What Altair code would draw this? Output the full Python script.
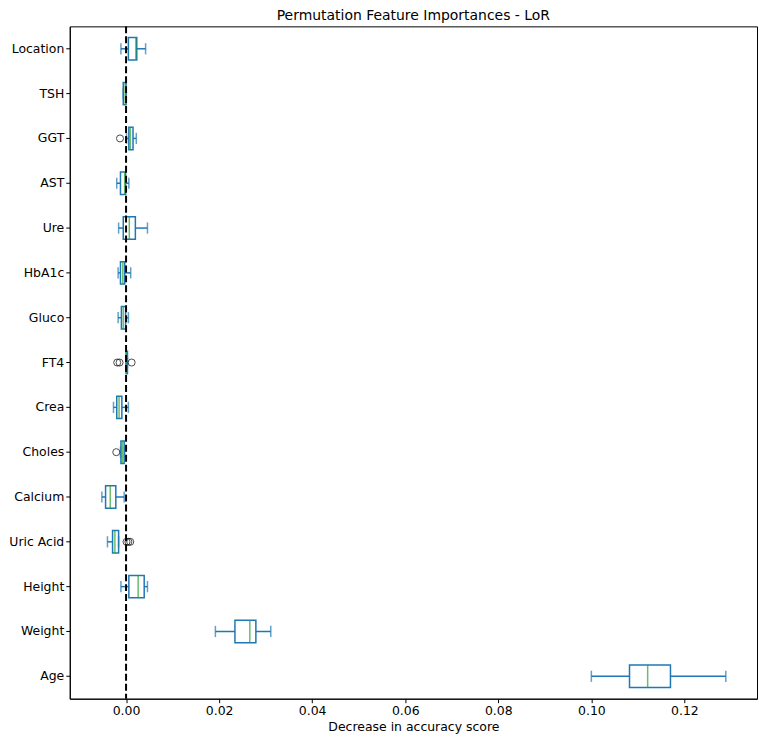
import altair as alt
import pandas as pd

features = ["Location", "TSH", "GGT", "AST", "Ure", "HbA1c", "Gluco", "FT4",
            "Crea", "Choles", "Calcium", "Uric Acid", "Height", "Weight", "Age"]
whisker_low = [-0.0011, -0.0006, 0.0001, -0.0020, -0.0016, -0.0017, -0.0017, 0.0000,
               -0.0027, -0.0012, -0.0052, -0.0040, -0.0011, 0.0192, 0.1000]
q1 = [0.0005, -0.0006, 0.0006, -0.0012, -0.0006, -0.0012, -0.0010, 0.0000,
      -0.0020, -0.0011, -0.0044, -0.0029, 0.0006, 0.0234, 0.1082]
median = [0.0021, -0.0002, 0.0009, -0.0003, 0.0007, -0.0007, -0.0006, 0.0002,
          -0.0015, -0.0008, -0.0034, -0.0024, 0.0026, 0.0266, 0.1121]
q3 = [0.0023, 0.0000, 0.0015, -0.0001, 0.0020, -0.0003, -0.0001, 0.0003,
      -0.0009, -0.0004, -0.0022, -0.0016, 0.0039, 0.0279, 0.1170]
whisker_high = [0.0042, 0.0000, 0.0022, 0.0006, 0.0046, 0.0010, 0.0005, 0.0003,
                0.0005, -0.0003, -0.0004, -0.0016, 0.0046, 0.0311, 0.1289]

outlier_features = ["GGT", "FT4", "FT4", "FT4", "Choles", "Uric Acid", "Uric Acid", "Uric Acid"]
outlier_values = [-0.0013, -0.0019, -0.0014, 0.0012, -0.0021, 0.0001, 0.0005, 0.0009]

x_ticks = [0.0, 0.02, 0.04, 0.06, 0.08, 0.10, 0.12]

df = pd.DataFrame({"feature": features, "lo": whisker_low, "q1": q1,
                   "med": median, "q3": q3, "hi": whisker_high})
df_out = pd.DataFrame({"feature": outlier_features, "value": outlier_values})
df_zero = pd.DataFrame({"z": [0.0]})

W, H = 690, 675
step = H / len(features)
BLUE = "#1f77b4"
GREEN = "#2ca02c"

xscale = alt.Scale(domain=[-0.0121, 0.1356], nice=False, zero=False)
yscale = alt.Scale(paddingInner=0.5, paddingOuter=0.25)
xaxis = alt.Axis(values=x_ticks, format=".2f", title="Decrease in accuracy score", grid=False)
yaxis = alt.Axis(title=None, grid=False)

y_enc = alt.Y("feature:N", sort=features, scale=yscale, axis=yaxis)

base = alt.Chart(df)

whiskers = base.mark_rule(color=BLUE, strokeWidth=1.5).encode(
    x=alt.X("lo:Q", scale=xscale, axis=xaxis), x2="hi:Q", y=y_enc)
box = base.mark_bar(fill="white", stroke=BLUE, strokeWidth=1.5).encode(
    x=alt.X("q1:Q", scale=xscale, axis=xaxis), x2="q3:Q", y=y_enc)
med = base.mark_tick(color=GREEN, thickness=1.5, size=step * 0.5).encode(
    x=alt.X("med:Q", scale=xscale, axis=xaxis), y=y_enc)
cap_lo = base.mark_tick(color=BLUE, thickness=1.5, size=step * 0.25).encode(
    x=alt.X("lo:Q", scale=xscale, axis=xaxis), y=y_enc)
cap_hi = base.mark_tick(color=BLUE, thickness=1.5, size=step * 0.25).encode(
    x=alt.X("hi:Q", scale=xscale, axis=xaxis), y=y_enc)
outliers = alt.Chart(df_out).mark_point(shape="circle", filled=False, color="black",
                                         size=50, strokeWidth=1).encode(
    x=alt.X("value:Q", scale=xscale, axis=xaxis), y=y_enc)
zero = alt.Chart(df_zero).mark_rule(color="black", strokeWidth=2, strokeDash=[7, 3]).encode(
    x=alt.X("z:Q", scale=xscale, axis=xaxis))

chart = alt.layer(whiskers, box, med, cap_lo, cap_hi, outliers, zero).properties(
    width=W, height=H,
    padding={"left": 0, "top": 0, "right": 2, "bottom": 0},
    title=alt.TitleParams("Permutation Feature Importances - LoR", fontSize=14,
                          fontWeight="normal", font="DejaVu Sans", color="black",
                          anchor="middle", offset=2),
).configure_view(stroke="black", strokeWidth=1).configure_axis(
    labelFont="DejaVu Sans", titleFont="DejaVu Sans", labelFontSize=12.5,
    titleFontSize=12.5, titleFontWeight="normal", labelColor="black", titleColor="black",
    tickColor="black", domainColor="black", tickSize=4, labelPadding=2, titlePadding=3,
)

chart.save("out.html", embed_options={"renderer": "svg", "actions": False})
